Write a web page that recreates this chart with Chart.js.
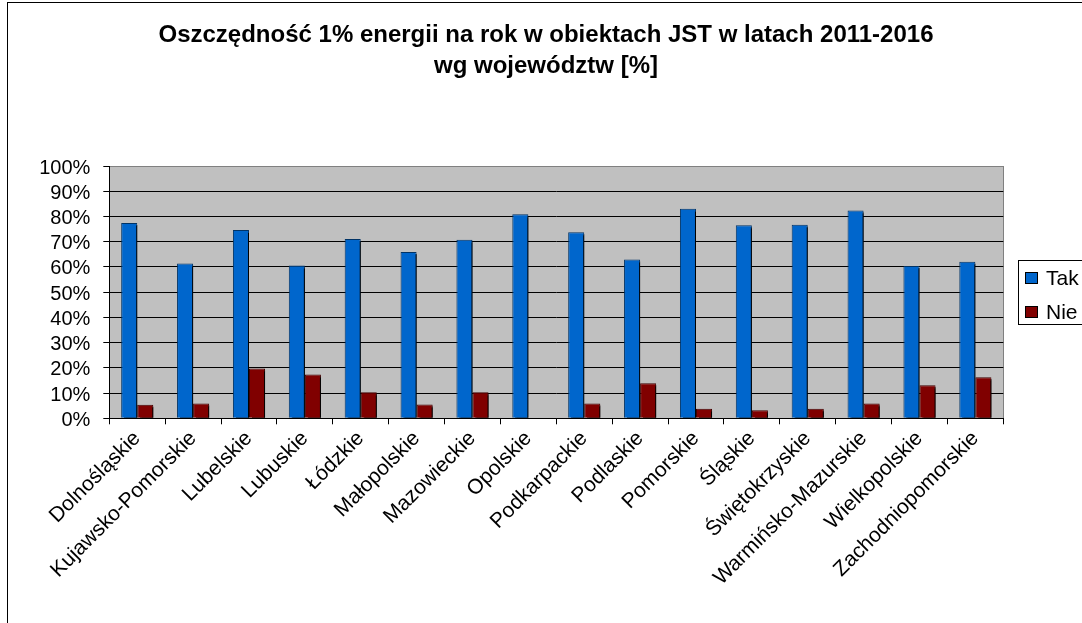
<!DOCTYPE html>
<html>
<head>
<meta charset="utf-8">
<script src="https://cdn.jsdelivr.net/npm/chart.js@4/dist/chart.umd.min.js"></script>
<style>
  html, body { margin: 0; padding: 0; background: #fff; overflow: hidden; }
  #wrap { width: 1092px; height: 640px; }
</style>
</head>
<body>
<div id="wrap"><canvas id="chart" width="1092" height="640"></canvas></div>
<script>
var FONT = '"Liberation Sans", Arial, sans-serif';

var regions = ['Dolnośląskie', 'Kujawsko-Pomorskie', 'Lubelskie', 'Lubuskie', 'Łódzkie',
  'Małopolskie', 'Mazowieckie', 'Opolskie', 'Podkarpackie', 'Podlaskie', 'Pomorskie',
  'Śląskie', 'Świętokrzyskie', 'Warmińsko-Mazurskie', 'Wielkopolskie', 'Zachodniopomorskie'];

var takValues = [77.4, 61.4, 74.6, 60.6, 71.1, 65.9, 70.8, 80.9, 73.7, 62.9, 83.1, 76.5, 76.7, 82.4, 60.4, 62.0];
var nieValues = [5.4, 5.9, 19.7, 17.4, 10.3, 5.5, 10.3, 0, 5.9, 13.9, 3.8, 3.2, 3.8, 5.9, 13.1, 16.3];

var seriesNames = ['Tak', 'Nie'];
var titleLines = ['Oszczędność 1% energii na rok w obiektach JST w latach 2011-2016', 'wg województw [%]'];

// grey plot background + outer frame
var backgroundPlugin = {
  id: 'background',
  beforeDraw: function (chart) {
    var ctx = chart.ctx, a = chart.chartArea;
    ctx.save();
    ctx.fillStyle = '#fff';
    ctx.fillRect(0, 0, chart.width, chart.height);
    ctx.fillStyle = '#C0C0C0';
    ctx.fillRect(a.left, a.top, a.right - a.left, a.bottom - a.top);
    ctx.strokeStyle = '#808080';
    ctx.lineWidth = 1;
    ctx.strokeRect(Math.round(a.left) + 0.5, Math.round(a.top) + 0.5, Math.round(a.right - a.left), Math.round(a.bottom - a.top));
    ctx.strokeStyle = '#000';
    ctx.strokeRect(7.5, 2.5, chart.width - 10, chart.height + 10);
    ctx.restore();
  }
};

// hard black drop shadow on the bars
var shadowPlugin = {
  id: 'barShadow',
  beforeDatasetsDraw: function (chart) {
    var ctx = chart.ctx;
    ctx.save();
    ctx.shadowColor = '#000';
    ctx.shadowBlur = 0;
    ctx.shadowOffsetX = 3;
    ctx.shadowOffsetY = 2;
  },
  afterDatasetsDraw: function (chart) {
    chart.ctx.restore();
  }
};

// boxed legend on the right side
var legendPlugin = {
  id: 'boxLegend',
  afterDraw: function (chart) {
    var ctx = chart.ctx;
    ctx.save();
    ctx.strokeStyle = '#000';
    ctx.lineWidth = 1;
    ctx.fillStyle = '#fff';
    ctx.fillRect(1018.5, 260.5, 70, 64);
    ctx.strokeRect(1018.5, 260.5, 70, 64);
    ctx.font = '21px ' + FONT;
    ctx.textBaseline = 'alphabetic';
    chart.data.datasets.forEach(function (ds, i) {
      var y = 272 + i * 34;
      ctx.fillStyle = ds.backgroundColor;
      ctx.fillRect(1025, y, 13, 12);
      ctx.strokeRect(1025.5, y + 0.5, 12, 11);
      ctx.fillStyle = '#000';
      ctx.fillText(ds.label, 1046, y + 13);
    });
    ctx.restore();
  }
};

var ctx = document.getElementById('chart').getContext('2d');
var chart = new Chart(ctx, {
  type: 'bar',
  data: {
    labels: regions,
    datasets: [{
      label: seriesNames[0],
      data: takValues,
      backgroundColor: '#0066CC',
      borderColor: '#003366',
      borderWidth: 1,
      clip: 0
    }, {
      label: seriesNames[1],
      data: nieValues,
      backgroundColor: '#800000',
      borderColor: '#400000',
      borderWidth: 1,
      clip: 0
    }]
  },
  plugins: [backgroundPlugin, shadowPlugin, legendPlugin],
  options: {
    responsive: false,
    animation: false,
    layout: { padding: 0 },
    datasets: { bar: { categoryPercentage: 0.575, barPercentage: 1.0 } },
    plugins: {
      legend: { display: false },
      tooltip: { enabled: false },
      title: {
        display: true,
        text: titleLines,
        color: '#000',
        font: { family: FONT, size: 24, weight: 'bold', lineHeight: 1.3 },
        padding: { top: 20, bottom: 83.6 }
      }
    },
    scales: {
      x: {
        grid: { offset: true, drawOnChartArea: false, color: '#000', tickLength: 6 },
        border: { color: '#000', width: 1 },
        ticks: { color: '#000', font: { family: FONT, size: 21 }, minRotation: 45, maxRotation: 45, autoSkip: false, padding: 2 },
        afterFit: function (s) { s.height = 640 - 418.3; }
      },
      y: {
        min: 0,
        max: 100,
        grid: {
          color: function (c) { return c.tick && c.tick.value === 100 ? '#808080' : '#000'; },
          tickColor: '#000',
          tickLength: 6
        },
        border: { color: '#000', width: 1 },
        ticks: {
          stepSize: 10,
          autoSkip: false,
          color: '#000',
          padding: 13,
          labelOffset: 2,
          font: { family: FONT, size: 20, lineHeight: 1 },
          callback: function (v) { return v + '%'; }
        },
        afterFit: function (s) { s.width = 109.3; }
      },
      spacer: {
        type: 'linear',
        position: 'right',
        min: 0,
        max: 1,
        grid: { display: false },
        border: { display: false },
        ticks: { display: false },
        afterFit: function (s) { s.width = 1092 - 1003.3; }
      }
    }
  }
});
</script>
</body>
</html>
